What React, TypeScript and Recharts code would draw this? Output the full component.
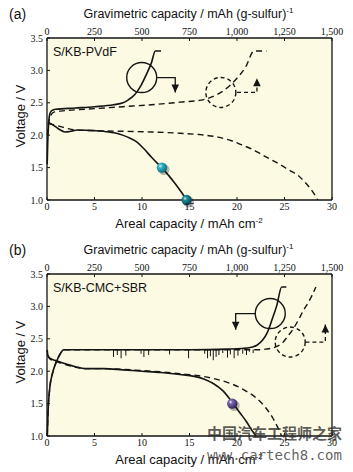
import React from "react";
import { ComposedChart, Line, Scatter, XAxis, YAxis, CartesianGrid, ReferenceDot } from "recharts";

const W = 353;
const H = 236;

const arealTicks = [0, 5, 10, 15, 20, 25, 30];
const gravimetricLabels = ["0", "250", "500", "750", "1,000", "1,250", "1,500"];
const voltageTicks = [1.0, 1.5, 2.0, 2.5, 3.0, 3.5];

// (a) S/KB-PVdF  — [areal capacity, voltage]
const aSolidDischarge = [
  [0.1, 2.2], [0.6, 2.16], [1.2, 2.1], [1.9, 2.05], [2.5, 2.06], [3.2, 2.08], [5, 2.07], [6.5, 2.05],
  [7.6, 2.02], [8.5, 1.97], [9.4, 1.9], [10.2, 1.79], [11, 1.66], [11.6, 1.57], [12.1, 1.5], [12.8, 1.38],
  [13.5, 1.25], [14.1, 1.13], [14.7, 1.0],
];
const aDashedDischarge = [
  [0.15, 2.18], [1, 2.15], [2, 2.11], [3, 2.08], [5, 2.07], [8, 2.06], [11, 2.05], [14, 2.03], [16, 2.01],
  [18, 1.97], [19.5, 1.91], [20.5, 1.85], [21.5, 1.79], [22.5, 1.71], [23.5, 1.63], [24.5, 1.55], [25.5, 1.46],
  [26.5, 1.37], [27.3, 1.25], [28, 1.12], [28.5, 1.0],
];
const aSolidCharge = [
  [0.02, 1.55], [0.08, 1.9], [0.18, 2.2], [0.3, 2.33], [0.5, 2.38], [0.9, 2.4], [3, 2.42], [5, 2.44], [7, 2.47],
  [8, 2.5], [8.6, 2.55], [9.2, 2.62], [9.9, 2.77], [10.5, 2.95], [11, 3.12], [11.4, 3.3], [12, 3.3],
];
const aDashedCharge = [
  [0.05, 2.0], [0.2, 2.22], [0.45, 2.32], [0.8, 2.36], [2, 2.38], [5, 2.41], [8, 2.44], [11, 2.47], [14, 2.51],
  [16.5, 2.55], [17.5, 2.6], [18.3, 2.66], [19.2, 2.76], [20, 2.88], [20.9, 3.05], [21.8, 3.3], [23.1, 3.3],
];
const aMarkers = [[12.1, 1.5], [14.7, 1.0]];
const aSolidCircle = [9.97, 2.89];
const aDashedCircle = [18.3, 2.66];
const aSolidArrow = [[11.6, 2.89], [13.5, 2.89], [13.5, 2.66]];
const aDashedArrow = [[20, 2.66], [22.1, 2.66], [22.1, 2.88]];

// (b) S/KB-CMC+SBR
const bSolidDischarge = [
  [0.02, 2.33], [0.1, 2.24], [0.3, 2.2], [1, 2.16], [2, 2.11], [3, 2.07], [4, 2.04], [6, 2.04], [8, 2.02],
  [10, 2.0], [12, 1.98], [14, 1.95], [15.5, 1.92], [16.5, 1.88], [17.5, 1.81], [18.5, 1.7], [19.5, 1.52],
  [20.3, 1.36], [21, 1.22], [21.6, 1.08], [22, 1.0],
];
const bDashedDischarge = [
  [0.1, 2.24], [0.3, 2.19], [1, 2.15], [2, 2.1], [3, 2.06], [4, 2.04], [6, 2.04], [8, 2.03], [10, 2.01],
  [12, 1.99], [14, 1.96], [16, 1.93], [18, 1.87], [19.5, 1.8], [21, 1.69], [22, 1.59], [23, 1.44], [23.8, 1.27],
  [24.3, 1.13], [24.7, 1.0],
];
const bSolidCharge = [
  [0.03, 1.0], [0.12, 1.4], [0.3, 1.75], [0.6, 1.98], [1.0, 2.15], [1.4, 2.27], [1.75, 2.33], [5, 2.33],
  [10, 2.33], [15, 2.33], [19, 2.34], [20.5, 2.35], [21.5, 2.37], [22.1, 2.4], [22.7, 2.48], [23.2, 2.6],
  [23.7, 2.8], [24.2, 3.02], [24.7, 3.3], [25.2, 3.3],
];
const bDashedCharge = [
  [0.03, 1.0], [0.12, 1.4], [0.3, 1.75], [0.6, 1.98], [1.0, 2.15], [1.4, 2.27], [1.75, 2.33], [10, 2.33],
  [20, 2.33], [22, 2.33], [23, 2.34], [24, 2.37], [24.8, 2.44], [25.4, 2.55], [25.9, 2.65], [26.5, 2.8],
  [27, 2.94], [27.5, 3.06], [27.9, 3.17], [28.3, 3.3],
];
// noise spikes on the charge plateau: [areal capacity, lowest voltage]
const bSpikes = [
  [7.0, 2.22], [7.4, 2.25], [7.8, 2.2], [8.3, 2.24], [9.9, 2.27], [10.2, 2.22], [10.7, 2.25], [12.9, 2.26],
  [14.9, 2.2], [16.6, 2.27], [16.9, 2.2], [17.2, 2.23], [17.5, 2.17], [17.8, 2.22], [18.1, 2.25], [18.5, 2.28],
  [19.0, 2.21], [19.3, 2.26], [19.7, 2.2], [20.1, 2.24], [20.6, 2.27], [21.0, 2.25], [21.3, 2.3], [21.7, 2.28],
];
const bSpikeLevel = 2.335;
const bMarkers = [[19.5, 1.5]];
const bSolidCircle = [23.5, 2.89];
const bDashedCircle = [25.6, 2.45];
const bSolidArrow = [[21.95, 2.89], [19.86, 2.89], [19.86, 2.64]];
const bDashedArrow = [[27.2, 2.45], [29.3, 2.45], [29.3, 2.72]];

const pts = (arr: number[][]) => arr.map(([x, v]) => ({ x, v }));
const spikePts = (arr: number[][], level: number) =>
  arr.flatMap(([x, low]) => [{ x, v: level }, { x, v: low }, { x, v: null }]);

const INK = "#151515";
const BG = "#fcfae3";
const tickFont = { fontFamily: "'Liberation Serif', serif", fontSize: 10, fill: "#111" };

let gid = 0;
const makeSphere = (light: string, dark: string) => (props: any) => {
  const { cx, cy } = props;
  if (cx == null || cy == null) return null;
  const id = `sph${gid++}`;
  return (
    <g>
      <defs>
        <radialGradient id={id} cx="35%" cy="35%" r="70%">
          <stop offset="0%" stopColor="#ffffff" stopOpacity={0.9} />
          <stop offset="25%" stopColor={light} />
          <stop offset="100%" stopColor={dark} />
        </radialGradient>
      </defs>
      <circle cx={cx + 2} cy={cy + 2} r={5.5} fill="#000" opacity={0.28} />
      <circle cx={cx} cy={cy} r={5.2} fill={`url(#${id})`} />
    </g>
  );
};

const arrowHead = (up: boolean) => (props: any) => {
  const { cx, cy } = props;
  if (cx == null || cy == null) return null;
  const b = up ? cy + 8 : cy - 8;
  return <polygon points={`${cx - 3.8},${b} ${cx + 3.8},${b} ${cx},${cy}`} fill={INK} />;
};

type PanelProps = {
  solidDischarge: number[][];
  dashedDischarge: number[][];
  solidCharge: number[][];
  dashedCharge: number[][];
  spikes?: number[][];
  spikeLevel?: number;
  markers: number[][];
  markerColors: string[][];
  solidCircle: number[];
  dashedCircle: number[];
  solidArrow: number[][];
  dashedArrow: number[][];
  solidArrowUp: boolean;
  dashedArrowUp: boolean;
};

function Panel(p: PanelProps) {
  const solidTip = p.solidArrow[p.solidArrow.length - 1];
  const dashedTip = p.dashedArrow[p.dashedArrow.length - 1];
  const lineProps = { dot: false, activeDot: false, isAnimationActive: false, xAxisId: "b", yAxisId: "l" } as const;
  return (
    <ComposedChart width={W} height={H} margin={{ top: 36, right: 19, bottom: 34, left: 45 }}>
      <CartesianGrid fill={BG} horizontal={false} vertical={false} xAxisId="b" yAxisId="l" />
      <XAxis
        xAxisId="b"
        dataKey="x"
        type="number"
        domain={[0, 30]}
        ticks={arealTicks}
        height={2}
        tickSize={-3}
        tickMargin={6}
        tick={tickFont}
        axisLine={{ stroke: INK, strokeWidth: 1.3 }}
        tickLine={{ stroke: INK }}
      />
      <XAxis
        xAxisId="t"
        dataKey="x"
        type="number"
        orientation="top"
        domain={[0, 30]}
        ticks={arealTicks}
        tickFormatter={(_v: number, i: number) => gravimetricLabels[i]}
        height={2}
        tickSize={-3}
        tickMargin={6}
        tick={tickFont}
        axisLine={{ stroke: INK, strokeWidth: 1.3 }}
        tickLine={{ stroke: INK }}
      />
      <YAxis
        yAxisId="l"
        type="number"
        domain={[1, 3.5]}
        ticks={voltageTicks}
        tickFormatter={(v: number) => v.toFixed(1)}
        width={2}
        tickSize={-3}
        tickMargin={7}
        tick={tickFont}
        axisLine={{ stroke: INK, strokeWidth: 1.3 }}
        tickLine={{ stroke: INK }}
      />
      <YAxis
        yAxisId="r"
        orientation="right"
        type="number"
        domain={[1, 3.5]}
        ticks={voltageTicks}
        width={2}
        tickSize={-3}
        tick={false}
        axisLine={{ stroke: INK, strokeWidth: 1.3 }}
        tickLine={{ stroke: INK }}
      />

      <Line {...lineProps} data={pts(p.dashedDischarge)} dataKey="v" type="monotone" stroke={INK} strokeWidth={1.4} strokeDasharray="6 4" xAxisId="t" yAxisId="r" />
      <Line {...lineProps} data={pts(p.dashedCharge)} dataKey="v" type="monotone" stroke={INK} strokeWidth={1.4} strokeDasharray="6 4" />
      {p.spikes && (
        <Line {...lineProps} data={spikePts(p.spikes, p.spikeLevel ?? 2.33)} dataKey="v" type="linear" stroke={INK} strokeWidth={1} />
      )}
      <Line {...lineProps} data={pts(p.solidCharge)} dataKey="v" type="monotone" stroke={INK} strokeWidth={1.6} />
      <Line {...lineProps} data={pts(p.solidDischarge)} dataKey="v" type="monotone" stroke={INK} strokeWidth={1.6} />

      <Line {...lineProps} data={pts(p.solidArrow)} dataKey="v" type="linear" stroke={INK} strokeWidth={1.3} />
      <Line {...lineProps} data={pts(p.dashedArrow)} dataKey="v" type="linear" stroke={INK} strokeWidth={1.3} strokeDasharray="4 3" />
      <Scatter data={pts([solidTip])} dataKey="v" xAxisId="b" yAxisId="l" shape={arrowHead(p.solidArrowUp)} isAnimationActive={false} />
      <Scatter data={pts([dashedTip])} dataKey="v" xAxisId="b" yAxisId="l" shape={arrowHead(p.dashedArrowUp)} isAnimationActive={false} />

      <ReferenceDot xAxisId="b" yAxisId="l" x={p.solidCircle[0]} y={p.solidCircle[1]} r={15} fill="none" stroke={INK} strokeWidth={1.4} />
      <ReferenceDot xAxisId="b" yAxisId="l" x={p.dashedCircle[0]} y={p.dashedCircle[1]} r={15} fill="none" stroke={INK} strokeWidth={1.4} strokeDasharray="4 3" />

      {p.markers.map((m, i) => (
        <Scatter
          key={i}
          data={pts([m])}
          dataKey="v"
          xAxisId="b"
          yAxisId="l"
          shape={makeSphere(p.markerColors[i][0], p.markerColors[i][1])}
          isAnimationActive={false}
        />
      ))}
    </ComposedChart>
  );
}

const sans = "'Liberation Sans', Arial, sans-serif";

function Titles({ tag, name, top }: { tag: string; name: string; top: number }) {
  const abs = (x: number, y: number, extra: React.CSSProperties = {}): React.CSSProperties => ({
    position: "absolute",
    left: x,
    top: top + y,
    lineHeight: 1,
    whiteSpace: "nowrap",
    fontFamily: sans,
    color: "#111",
    ...extra,
  });
  const sup: React.CSSProperties = { fontSize: 8, position: "relative", top: -5 };
  return (
    <>
      <div style={abs(9, 7, { fontSize: 14 })}>{tag}</div>
      <div style={abs(188.5, 7.5, { fontSize: 12.5, transform: "translateX(-50%)" })}>
        Gravimetric capacity / mAh (g-sulfur)<span style={sup}>-1</span>
      </div>
      <div style={abs(189, 216.5, { fontSize: 13, transform: "translateX(-50%)" })}>
        Areal capacity / mAh cm<span style={sup}>-2</span>
      </div>
      <div style={abs(20, 116, { fontSize: 13, transform: "translate(-50%, -50%) rotate(-90deg)" })}>Voltage / V</div>
      <div style={abs(53, 46, { fontSize: 12.5 })}>{name}</div>
    </>
  );
}

export default function App() {
  return (
    <div style={{ position: "absolute", left: 0, top: 0, width: W, height: 472, background: "#fff", overflow: "hidden" }}>
      <div style={{ position: "absolute", left: 0, top: 0 }}>
        <Panel
          solidDischarge={aSolidDischarge}
          dashedDischarge={aDashedDischarge}
          solidCharge={aSolidCharge}
          dashedCharge={aDashedCharge}
          markers={aMarkers}
          markerColors={[["#34b9cc", "#0b6674"], ["#1f8f9e", "#063f48"]]}
          solidCircle={aSolidCircle}
          dashedCircle={aDashedCircle}
          solidArrow={aSolidArrow}
          dashedArrow={aDashedArrow}
          solidArrowUp={false}
          dashedArrowUp={true}
        />
      </div>
      <Titles tag="(a)" name="S/KB-PVdF" top={0} />
      <div style={{ position: "absolute", left: 0, top: 236 }}>
        <Panel
          solidDischarge={bSolidDischarge}
          dashedDischarge={bDashedDischarge}
          solidCharge={bSolidCharge}
          dashedCharge={bDashedCharge}
          spikes={bSpikes}
          spikeLevel={bSpikeLevel}
          markers={bMarkers}
          markerColors={[["#7a68b0", "#2c2150"]]}
          solidCircle={bSolidCircle}
          dashedCircle={bDashedCircle}
          solidArrow={bSolidArrow}
          dashedArrow={bDashedArrow}
          solidArrowUp={false}
          dashedArrowUp={true}
        />
      </div>
      <Titles tag="(b)" name="S/KB-CMC+SBR" top={236} />
      <div
        style={{
          position: "absolute",
          left: 207,
          top: 425,
          fontFamily: "'Noto Sans CJK SC', sans-serif",
          fontSize: 15,
          fontWeight: 700,
          color: "rgba(40,40,40,0.75)",
          letterSpacing: 0,
          whiteSpace: "nowrap",
          lineHeight: 1.1,
        }}
      >
        中国汽车工程师之家
      </div>
      <div
        style={{
          position: "absolute",
          left: 207,
          top: 448,
          fontFamily: "'DejaVu Sans Mono', monospace",
          fontSize: 14,
          color: "rgba(70,70,70,0.85)",
          whiteSpace: "nowrap",
          lineHeight: 1.1,
        }}
      >
        www.cartech8.com
      </div>
    </div>
  );
}
